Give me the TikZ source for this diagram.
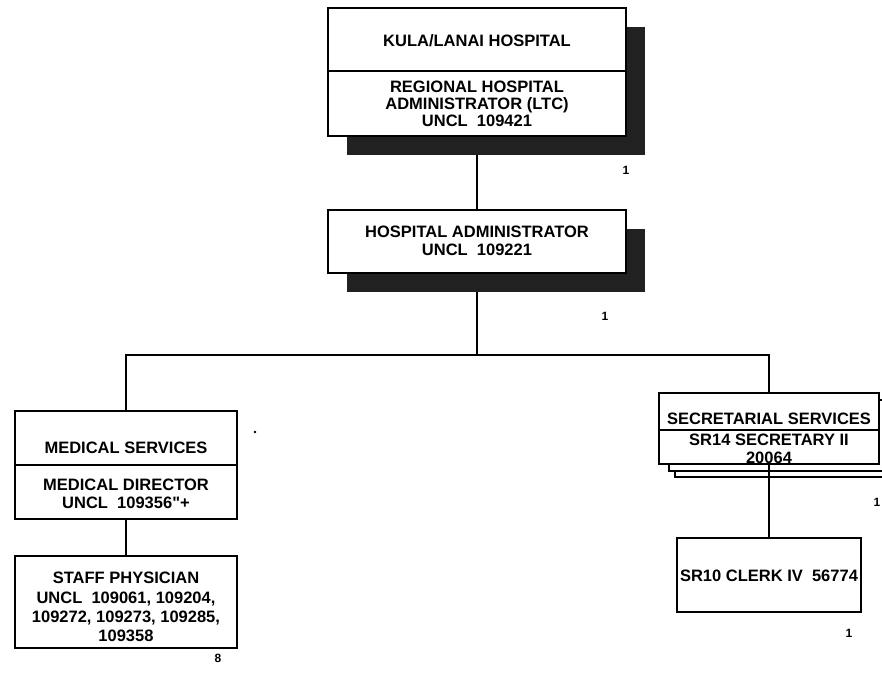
\documentclass[tikz,border=0pt]{standalone}
\usepackage{fontspec}
\setmainfont{Liberation Sans}[Ligatures=TeXOff]
\usetikzlibrary{backgrounds}
\begin{document}
\begin{tikzpicture}[x=1pt,y=-1pt,
  box/.style={draw=black, line width=1.6pt, fill=white, rectangle, inner sep=0pt},
  lbl/.style={font=\bfseries\fontsize{16.5}{18}\selectfont, align=center, inner sep=0pt},
  cnt/.style={font=\bfseries\fontsize{12}{12}\selectfont, inner sep=0pt},
  conn/.style={line width=1.3pt},
  shade/.style={fill=black!87, draw=none},
  divline/.style={line width=1.3pt}]
\useasboundingbox (0,0) rectangle (882,672);
\clip (0,0) rectangle (882,672);

% boxes
\node[box, minimum width=298pt, minimum height=128pt] (top) at (477,72) {};
\node[box, minimum width=298pt, minimum height=63pt] (admin) at (477,241.5) {};
\node[box, minimum width=222pt, minimum height=108pt] (med) at (126,465) {};
\node[box, minimum width=222pt, minimum height=92pt] (staff) at (126,602) {};
\node[box, minimum width=184pt, minimum height=74pt] (clerk) at (769,575) {};
\coordinate (bus) at (477,355);

\begin{scope}[on background layer]
  \draw[conn] (top.south) -- (admin.north);
  \draw[conn] (admin.south) -- (bus);
  \draw[conn] (bus) -| (med.north);
  \draw[conn] (med.south) -- (staff.north);
  % shadows
  \fill[shade] (347,27) rectangle (645,155);
  \fill[shade] (347,229) rectangle (645,292);
\end{scope}

% stacked secretarial boxes
\draw[line width=1.6pt, fill=white] (675,406) rectangle (895,477);
\draw[line width=1.6pt, fill=white] (669,400) rectangle (889,471);
\node[box, minimum width=220pt, minimum height=71pt] (sec) at (769,428.5) {};
\draw[conn] (bus) -| (sec.north);
\draw[conn] (sec.south) -- (clerk.north);

% dividers
\draw[divline] (top.west |- 0,71) -- (top.east |- 0,71);
\draw[divline] (med.west |- 0,465) -- (med.east |- 0,465);
\draw[divline] (sec.west |- 0,430) -- (sec.east |- 0,430);

% texts
\node[lbl] (t1) at (477,41) {KULA/LANAI HOSPITAL};
\node[lbl, font=\bfseries\fontsize{16.5}{17}\selectfont] (t2) at (477,104) {REGIONAL HOSPITAL\\ADMINISTRATOR (LTC)\\UNCL\ \ 109421};
\node[lbl] (t3) at (477,241) {HOSPITAL ADMINISTRATOR\\UNCL\ \ 109221};
\node[lbl] (t4) at (126,448) {MEDICAL SERVICES};
\node[lbl] (t5) at (126,494) {MEDICAL DIRECTOR\\UNCL\ \ 109356"+};
\node[lbl, font=\bfseries\fontsize{16.5}{19.3}\selectfont] (t6) at (126,607) {STAFF PHYSICIAN\\UNCL\ \ 109061, 109204,\\109272, 109273, 109285,\\109358};
\node[lbl] (t7) at (769,419) {SECRETARIAL SERVICES};
\node[lbl] (t8) at (769,449) {SR14 SECRETARY II\\20064};
\node[lbl] (t9) at (769,576) {SR10 CLERK IV\ \ 56774};

% counts
\node[cnt] (c1) at (626,170) {1};
\node[cnt] (c2) at (605,316) {1};
\node[cnt] (c3) at (877,502) {1};
\node[cnt] (c4) at (849,633) {1};
\node[cnt] (c5) at (218,658) {8};

\fill (255,432) circle (1.3pt);
\end{tikzpicture}
\end{document}
